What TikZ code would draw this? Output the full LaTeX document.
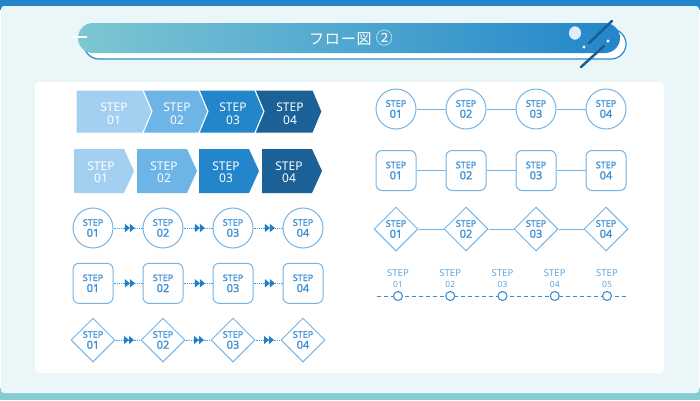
\documentclass[tikz,border=0pt]{standalone}
\usepackage{fontspec}
\setmainfont{Noto Sans}
\newfontfamily\jpfont[LetterSpace=6]{Noto Sans CJK JP}
\newfontfamily\stepfont[FakeBold=1.2]{Noto Sans}
\usetikzlibrary{shapes.geometric,arrows.meta,decorations.markings,positioning}

\definecolor{topblue}{HTML}{2385C9}
\definecolor{bglight}{HTML}{EAF6F8}
\definecolor{bottomteal}{HTML}{83CCD1}
\definecolor{titleL}{HTML}{7DC7D3}
\definecolor{titleR}{HTML}{2386CA}
\definecolor{shadowline}{HTML}{2A89CE}
\definecolor{decodark}{HTML}{1C5C90}
\definecolor{decolight}{HTML}{DDEEFA}
\definecolor{stepcol1}{HTML}{A3D0F1}
\definecolor{stepcol2}{HTML}{6DB4E7}
\definecolor{stepcol3}{HTML}{2386CB}
\definecolor{stepcol4}{HTML}{1B6198}
\definecolor{outline}{HTML}{74B4E6}
\definecolor{steptxt}{HTML}{3A8ED3}
\definecolor{arrowblue}{HTML}{1F7FCB}
\definecolor{dotblue}{HTML}{4A9AD8}
\definecolor{tltxt}{HTML}{5EA8DF}

\newcommand{\steplabel}[1]{STEP\\{\fontsize{11}{11}\selectfont #1}}

\begin{document}
\begin{tikzpicture}[x=1pt,y=-1pt,
  stepbox/.style={draw=outline, line width=1pt, fill=white, text=steptxt, align=center, inner sep=0pt, font=\stepfont\fontsize{9}{11}\selectfont},
  circlestep/.style={stepbox, circle, minimum size=40pt},
  boxstep/.style={stepbox, rectangle, rounded corners=6pt, minimum size=40pt},
  diamondstep/.style={stepbox, diamond, aspect=1, minimum size=44pt},
  chevtext/.style={text=white, align=center, inner sep=0pt, font=\fontsize{12}{12.5}\selectfont},
  dotlink/.style={draw=dotblue, line width=0.9pt, dash pattern=on 1pt off 0.8pt, postaction={decorate},
    decoration={markings, mark=at position 0.74 with {\arrow[arrowblue]{Triangle[length=5pt,width=8pt] Triangle[length=5pt,width=8pt]}}}},
  solidlink/.style={draw=outline, line width=1pt},
  tldot/.style={circle, draw=steptxt, fill=white, line width=1.1pt, minimum size=9pt, inner sep=0pt},
  tllabel/.style={text=tltxt, align=center, inner sep=0pt, font=\fontsize{9.5}{11}\selectfont}]
\useasboundingbox (0,0) rectangle (700,400);
% background
\fill[topblue] (0,0) rectangle (700,10);
\fill[bottomteal] (0,388) rectangle (700,400);
\fill[bglight, rounded corners=3pt] (1,6) rectangle (699,393);
\fill[white, rounded corners=4pt] (35,82) rectangle (664,373);
% title bar
\draw[shadowline, line width=1.2pt, fill=white, rounded corners=15pt] (84,29) rectangle (626,59);
\shade[left color=titleL, right color=titleR, rounded corners=15pt] (78,23) rectangle (620,53);
\node[text=white, font=\jpfont\fontsize{15}{15}\selectfont] (title) at (351,38) {フロー図 {\fontsize{17}{15}\selectfont ②}};
\draw[white, line width=1.2pt] (72,37) -- (87,37);
\fill[decolight] (575,33) ellipse [x radius=6, y radius=6.7];
\fill[white] (584,47) circle (1.6) (608,41) circle (1.6);
\draw[decodark, line width=2.5pt, line cap=round] (589,43) -- (612,21) (581,67) -- (604,46);
% chevrons
\foreach \i/\l/\r/\n/\tx in {1/76/143/0/114, 2/143/199/9/177, 3/199/255/9/233, 4/255/313/9/290}{
  \filldraw[fill=stepcol\i, draw=white, line width=1pt] (\l,90) -- (\r,90) -- (\r+9,111.5) -- (\r,133) -- (\l,133) -- (\l+\n,111.5) -- cycle;
  \node[chevtext] (chev\i) at (\tx,113.5) {STEP\\0\i};
}
% pentagons
\foreach \i/\l in {1/74, 2/137, 3/199, 4/262}{
  \fill[stepcol\i] (\l,149) -- (\l+50,149) -- (\l+60,171) -- (\l+50,193) -- (\l,193) -- cycle;
  \node[chevtext] (pent\i) at (\l+27,172.3) {STEP\\0\i};
}
% step nodes
\foreach \i in {1,...,4}{
  \node[circlestep] (cl\i) at ({93+70*(\i-1)},228) {\steplabel{0\i}};
  \node[boxstep] (bl\i) at ({93+70*(\i-1)},283.3) {\steplabel{0\i}};
  \node[diamondstep] (dl\i) at ({93+70*(\i-1)},340) {\steplabel{0\i}};
  \node[circlestep] (cr\i) at ({396+70*(\i-1)},109) {\steplabel{0\i}};
  \node[boxstep] (br\i) at ({396+70*(\i-1)},170.5) {\steplabel{0\i}};
  \node[diamondstep] (dr\i) at ({396+70*(\i-1)},229) {\steplabel{0\i}};
}
\foreach \i/\j in {1/2, 2/3, 3/4}{
  \draw[dotlink] (cl\i) -- (cl\j);
  \draw[dotlink] (bl\i) -- (bl\j);
  \draw[dotlink] (dl\i) -- (dl\j);
  \draw[solidlink] (cr\i) -- (cr\j);
  \draw[solidlink] (br\i) -- (br\j);
  \draw[solidlink] (dr\i) -- (dr\j);
}
% timeline
\coordinate (tlstart) at (377,296);
\coordinate (tlend) at (627,296);
\draw[steptxt, line width=1pt, dash pattern=on 4pt off 3pt] (tlstart) -- (tlend);
\foreach \i in {1,...,5}{
  \node[tldot] (t\i) at ({398+52.25*(\i-1)},296) {};
  \node[tllabel, above=3.5pt of t\i] (tl\i) {STEP\\{\fontsize{8.5}{11}\selectfont 0\i}};
}
\end{tikzpicture}
\end{document}
